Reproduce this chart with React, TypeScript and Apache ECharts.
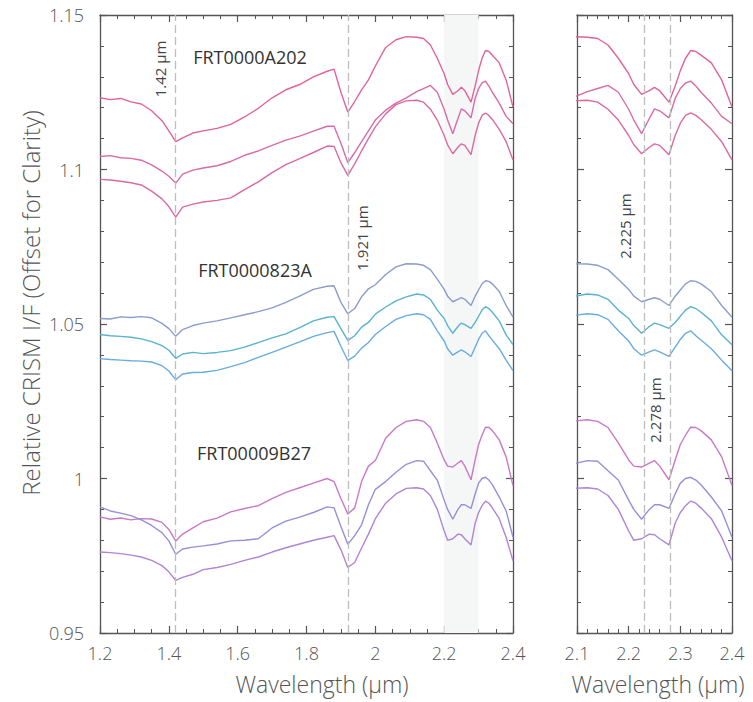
import React, { useEffect, useRef } from "react";
import * as echarts from "echarts";

// Wavelength grid (µm)
const WAVELENGTH = [
  1.2, 1.23, 1.26, 1.29, 1.32, 1.35, 1.38, 1.4, 1.42, 1.44, 1.47, 1.5, 1.54, 1.58, 1.62, 1.66,
  1.7, 1.74, 1.78, 1.82, 1.86, 1.88, 1.9, 1.92, 1.94, 1.96, 1.98, 2.0, 2.03, 2.06, 2.09, 2.12,
  2.14, 2.16, 2.18, 2.2, 2.21, 2.225, 2.24, 2.25, 2.26, 2.278, 2.29, 2.3, 2.31, 2.32, 2.33, 2.34,
  2.36, 2.38, 2.4,
];

// FRT0000A202 spectra
const A202_TOP = [
  1.1232, 1.1226, 1.123, 1.1219, 1.1212, 1.119, 1.1158, 1.1125, 1.109, 1.1102, 1.1118, 1.1125,
  1.1133, 1.1146, 1.117, 1.1198, 1.1232, 1.1258, 1.1275, 1.13, 1.1318, 1.1325, 1.125, 1.1186,
  1.122, 1.1258, 1.129, 1.1335, 1.1395, 1.142, 1.143, 1.1428, 1.1424, 1.1403, 1.136, 1.131,
  1.1275, 1.1243, 1.1255, 1.1266, 1.1255, 1.1218, 1.127, 1.132, 1.136, 1.1385, 1.1382, 1.137,
  1.1345, 1.129, 1.1202,
];
const A202_MID = [
  1.1042, 1.1045, 1.1038, 1.1036, 1.103, 1.1015, 1.0995, 1.0978, 1.0956, 1.0985, 1.0998, 1.1005,
  1.1012, 1.1026, 1.1046, 1.106, 1.1078, 1.1095, 1.1108, 1.1124, 1.114, 1.114, 1.1085, 1.1022,
  1.1055, 1.109, 1.1125, 1.116, 1.1192, 1.1215, 1.1232, 1.1252, 1.1262, 1.1272, 1.125, 1.1195,
  1.116, 1.1116, 1.1165, 1.1196, 1.119, 1.1167, 1.123, 1.1262, 1.128, 1.1286, 1.127, 1.125,
  1.1215, 1.1172, 1.1148,
];
const A202_LOW = [
  1.0968, 1.0966, 1.0962, 1.0957, 1.095, 1.093, 1.0905, 1.088, 1.0846, 1.0878, 1.0888, 1.0895,
  1.09, 1.0908, 1.0935, 1.096, 1.099, 1.1016, 1.1035, 1.1055, 1.1076, 1.1075, 1.1022, 1.0981,
  1.1018, 1.106, 1.11, 1.1138, 1.118, 1.121, 1.1222, 1.1224, 1.1218, 1.1195, 1.116, 1.111,
  1.108, 1.1051, 1.1072, 1.1083, 1.1078, 1.1048, 1.111, 1.115, 1.1175, 1.1183, 1.1175, 1.1162,
  1.113, 1.109, 1.1031,
];

// FRT0000823A spectra
const B823A_TOP = [
  1.0518, 1.0516, 1.0523, 1.0521, 1.0524, 1.052, 1.0502, 1.0485, 1.046, 1.0482, 1.0495, 1.0503,
  1.051, 1.052, 1.053, 1.054, 1.0552, 1.057, 1.059, 1.0612, 1.0622, 1.0624, 1.057, 1.0533,
  1.055, 1.0588, 1.0614, 1.0627, 1.066, 1.0685, 1.0695, 1.0694, 1.069, 1.0676, 1.0645, 1.0612,
  1.059, 1.0572, 1.058, 1.0585, 1.058, 1.056, 1.059, 1.061, 1.063, 1.064, 1.0638, 1.063,
  1.0605, 1.056, 1.0522,
];
const B823A_MID = [
  1.0466, 1.0462, 1.046, 1.0457, 1.0452, 1.0443, 1.043, 1.0415, 1.0389, 1.0403, 1.0408, 1.0404,
  1.0408, 1.0414, 1.0425, 1.044, 1.0455, 1.0468, 1.0488, 1.051, 1.0522, 1.0524, 1.0485, 1.0447,
  1.0462, 1.049, 1.0505, 1.0532, 1.0555, 1.0575, 1.0588, 1.0597, 1.0594, 1.058, 1.0545, 1.0518,
  1.0495, 1.047, 1.0492, 1.0503, 1.0498, 1.0486, 1.0505, 1.0525, 1.0545, 1.0556, 1.055, 1.0538,
  1.051, 1.0465, 1.0433,
];
const B823A_LOW = [
  1.0388, 1.0385, 1.0383, 1.0381, 1.038, 1.0377, 1.0365, 1.0348, 1.032, 1.0338, 1.0343, 1.0344,
  1.035, 1.0362, 1.0375, 1.0392, 1.0408, 1.0425, 1.0442, 1.046, 1.0472, 1.0476, 1.0428, 1.0382,
  1.0396, 1.0422, 1.044, 1.0466, 1.0492, 1.0515, 1.0527, 1.0533, 1.053, 1.0515, 1.0478, 1.0445,
  1.042, 1.0399, 1.041, 1.0416, 1.041, 1.0395, 1.0425, 1.045, 1.047, 1.0478, 1.0462, 1.0448,
  1.042, 1.0383, 1.0349,
];

// FRT00009B27 spectra
const B27_TOP = [
  0.9876, 0.9868, 0.9872, 0.9866, 0.987, 0.9869, 0.9858, 0.9835, 0.9798, 0.982, 0.984, 0.986,
  0.9872, 0.9892, 0.9903, 0.9912, 0.9935, 0.9955, 0.997, 0.9985, 1.0, 0.999, 0.9935, 0.9885,
  0.9905, 0.999, 1.004, 1.0058, 1.013, 1.0165, 1.0185, 1.019, 1.0185, 1.0165, 1.0115, 1.006,
  1.004, 1.0037, 1.005, 1.0058, 1.004, 0.9996, 1.006, 1.011, 1.014, 1.0166, 1.0165, 1.0155,
  1.0125, 1.007, 0.9977,
];
const B27_MID = [
  0.9908, 0.9895, 0.9888, 0.988, 0.9866, 0.9848, 0.9825, 0.9798, 0.9755, 0.9772, 0.9778, 0.9782,
  0.9788, 0.9798, 0.98, 0.9805, 0.984, 0.9862, 0.9875, 0.989, 0.9908, 0.9905, 0.9845, 0.9787,
  0.9815, 0.985, 0.9915, 0.9965, 0.999, 1.002, 1.0046, 1.0058, 1.0056, 1.0025, 0.9995, 0.993,
  0.99, 0.9868, 0.99, 0.9915, 0.9915, 0.9903, 0.995, 0.9985, 1.0, 1.0004, 0.9995, 0.998,
  0.994, 0.9895, 0.981,
];
const B27_LOW = [
  0.9762, 0.976, 0.9757, 0.9752, 0.9746, 0.9735, 0.9718, 0.9698, 0.967, 0.968, 0.969, 0.9705,
  0.9712, 0.9722, 0.9735, 0.9746, 0.9762, 0.9776, 0.9788, 0.98, 0.981, 0.9815, 0.977, 0.9712,
  0.9728, 0.9775, 0.982, 0.987, 0.992, 0.995, 0.9968, 0.997, 0.9966, 0.9945, 0.99, 0.983,
  0.98, 0.9805, 0.982, 0.9818, 0.9805, 0.9785, 0.9855, 0.989, 0.9912, 0.9927, 0.992, 0.9905,
  0.987, 0.981, 0.9734,
];

const SPECTRA = [
  { name: "FRT0000A202 1", values: A202_TOP, color: "#e2639b" },
  { name: "FRT0000A202 2", values: A202_MID, color: "#d86ba8" },
  { name: "FRT0000A202 3", values: A202_LOW, color: "#dc6aa0" },
  { name: "FRT0000823A 1", values: B823A_TOP, color: "#8a9dcb" },
  { name: "FRT0000823A 2", values: B823A_MID, color: "#58b3cf" },
  { name: "FRT0000823A 3", values: B823A_LOW, color: "#68ace0" },
  { name: "FRT00009B27 1", values: B27_TOP, color: "#c879c6" },
  { name: "FRT00009B27 2", values: B27_MID, color: "#968fd9" },
  { name: "FRT00009B27 3", values: B27_LOW, color: "#b084d6" },
];

const SCENE_LABELS = ["FRT0000A202", "FRT0000823A", "FRT00009B27"];
const LEFT_BANDS = [1.42, 1.921];
const RIGHT_BANDS = [2.225, 2.278];
const SHADE = [2.2, 2.3];

const FONT = "'Open Sans', 'Noto Sans', sans-serif";
const AXIS_COLOR = "#555";

function valueAxis(gridIndex: number, min: number, max: number, interval: number, minorSplit: number, position: string, showLabel: boolean, margin: number) {
  return {
    type: "value",
    gridIndex,
    position,
    min,
    max,
    interval,
    axisLine: { show: true, onZero: false, lineStyle: { color: AXIS_COLOR, width: 1.3 } },
    axisTick: { show: true, inside: true, length: 7, lineStyle: { color: AXIS_COLOR, width: 1.2 } },
    minorTick: { show: true, splitNumber: minorSplit, length: 4, lineStyle: { color: AXIS_COLOR, width: 1 } },
    splitLine: { show: false },
    minorSplitLine: { show: false },
    axisLabel: {
      show: showLabel,
      color: AXIS_COLOR,
      fontSize: 18,
      fontFamily: FONT,
      fontWeight: 300,
      margin,
    },
  };
}

export default function App() {
  const ref = useRef<HTMLDivElement>(null);

  useEffect(() => {
    if (!ref.current) return;
    const chart = echarts.init(ref.current, undefined, { renderer: "svg" });

    const series: any[] = [];
    // shading
    series.push({
      type: "line",
      xAxisIndex: 0,
      yAxisIndex: 0,
      data: [],
      z: 1,
      silent: true,
      markArea: {
        silent: true,
        itemStyle: { color: "#f5f7f7", opacity: 1 },
        data: [[{ xAxis: SHADE[0] }, { xAxis: SHADE[1] }]],
      },
    });
    const dashStyle = { type: [8, 4], color: "#bdbdbd", width: 1.3 };
    series.push({
      type: "line",
      xAxisIndex: 0,
      yAxisIndex: 0,
      data: [],
      z: 2,
      silent: true,
      markLine: {
        silent: true,
        symbol: "none",
        label: { show: false },
        lineStyle: dashStyle,
        data: LEFT_BANDS.map((x) => ({ xAxis: x })),
      },
    });
    series.push({
      type: "line",
      xAxisIndex: 2,
      yAxisIndex: 2,
      data: [],
      z: 2,
      silent: true,
      markLine: {
        silent: true,
        symbol: "none",
        label: { show: false },
        lineStyle: dashStyle,
        data: RIGHT_BANDS.map((x) => ({ xAxis: x })),
      },
    });

    SPECTRA.forEach((s) => {
      const data = WAVELENGTH.map((w, i) => [w, s.values[i]]);
      [0, 2].forEach((ax) => {
        series.push({
          type: "line",
          name: s.name,
          xAxisIndex: ax,
          yAxisIndex: ax,
          data,
          showSymbol: false,
          symbol: "none",
          z: 3,
          clip: true,
          lineStyle: { color: s.color, width: 1.4 },
          itemStyle: { color: s.color },
        });
      });
    });

    const textStyle = (text: string, size: number, color: string, weight: any = "normal") => ({
      text,
      fontSize: size,
      fontFamily: FONT,
      fontWeight: weight,
      fill: color,
      align: "center",
      verticalAlign: "middle",
    });

    chart.setOption({
      animation: false,
      backgroundColor: "#ffffff",
      grid: [
        { left: 100, top: 15, width: 413, height: 618 },
        { left: 577, top: 15, width: 155, height: 618 },
      ],
      xAxis: [
        valueAxis(0, 1.2, 2.4, 0.2, 4, "bottom", true, 11),
        valueAxis(0, 1.2, 2.4, 0.2, 4, "top", false, 8),
        valueAxis(1, 2.1, 2.4, 0.1, 5, "bottom", true, 11),
        valueAxis(1, 2.1, 2.4, 0.1, 5, "top", false, 8),
      ],
      yAxis: [
        valueAxis(0, 0.95, 1.15, 0.05, 5, "left", true, 16),
        valueAxis(0, 0.95, 1.15, 0.05, 5, "right", false, 8),
        valueAxis(1, 0.95, 1.15, 0.05, 5, "left", false, 8),
        valueAxis(1, 0.95, 1.15, 0.05, 5, "right", false, 8),
      ],
      series,
      graphic: [
        { type: "text", x: 30, y: 303, rotation: Math.PI / 2, style: textStyle("Relative CRISM I/F (Offset for Clarity)", 24, AXIS_COLOR, 300) },
        { type: "text", x: 322, y: 684, style: textStyle("Wavelength (µm)", 23, AXIS_COLOR, 300) },
        { type: "text", x: 658, y: 684, style: textStyle("Wavelength (µm)", 23, AXIS_COLOR, 300) },
        { type: "text", x: 250, y: 57, style: textStyle(SCENE_LABELS[0], 18, "#333") },
        { type: "text", x: 255, y: 270, style: textStyle(SCENE_LABELS[1], 18, "#333") },
        { type: "text", x: 254, y: 453, style: textStyle(SCENE_LABELS[2], 18, "#333") },
        { type: "text", x: 160, y: 69, rotation: Math.PI / 2, style: textStyle(`${LEFT_BANDS[0]} µm`, 15, "#444") },
        { type: "text", x: 362, y: 238, rotation: Math.PI / 2, style: textStyle(`${LEFT_BANDS[1]} µm`, 15, "#444") },
        { type: "text", x: 625, y: 226, rotation: Math.PI / 2, style: textStyle(`${RIGHT_BANDS[0]} µm`, 15, "#444") },
        { type: "text", x: 655, y: 410, rotation: Math.PI / 2, style: textStyle(`${RIGHT_BANDS[1]} µm`, 15, "#444") },
      ],
    });

    return () => chart.dispose();
  }, []);

  return (
    <div
      ref={ref}
      style={{ position: "fixed", left: 0, top: 0, width: 753, height: 702, background: "#fff" }}
    />
  );
}
